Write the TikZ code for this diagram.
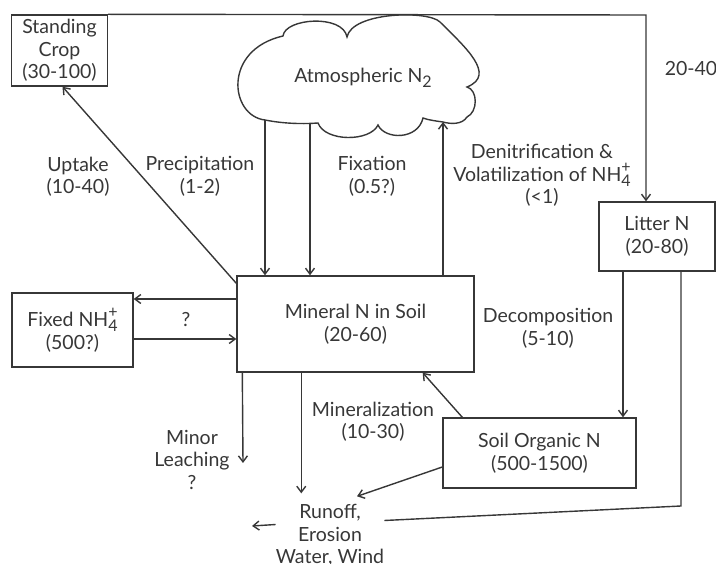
\documentclass[tikz,border=0pt]{standalone}
\usepackage{fontspec}
\setmainfont{Lato}
\usetikzlibrary{positioning,arrows.meta}
\definecolor{inkgray}{RGB}{55,55,55}
\newcommand{\ammon}{NH\raisebox{-0.55ex}{\shortstack[l]{\fontsize{16}{10}\selectfont +\\\fontsize{16}{16}\selectfont 4}}}
\newcommand{\dinitro}{N\raisebox{-0.45ex}{\fontsize{16}{16}\selectfont 2}}

\begin{document}
\begin{tikzpicture}[x=1pt,y=-1pt,
    every node/.style={font=\fontsize{19.5}{22.5}\selectfont, text=inkgray, align=center},
    pool/.style={draw=inkgray, line width=1.4pt, inner sep=0pt},
    txt/.style={inner sep=0pt},
    flow/.style={draw=inkgray, line width=1.4pt, -{Straight Barb[length=6pt,width=9pt]}},
    plain/.style={draw=inkgray, line width=1.4pt}]
  \useasboundingbox (0,0) rectangle (716,564);

  % Define the pools
  \node[pool, minimum width=96pt, minimum height=71pt] (crop) at (59.5,50.5) {Standing\\Crop\\(30-100)};
  \node[pool, minimum width=237pt, minimum height=96pt] (mineral) at (355.5,324) {Mineral N in Soil\\(20-60)};
  \node[pool, minimum width=121pt, minimum height=74pt] (fixed) at (72.5,330) {Fixed \ammon\\(500?)};
  \node[pool, minimum width=116pt, minimum height=69pt] (litter) at (657,236.5) {Litter N\\(20-80)};
  \node[pool, minimum width=193pt, minimum height=70pt] (soilorg) at (539.5,453) {Soil Organic N\\(500-1500)};

  % Atmosphere cloud
  \draw[plain] (265,120) .. controls (230,116) and (222,50) .. (283,36)
    .. controls (285,18) and (343,14) .. (347,37)
    .. controls (352,12) and (428,10) .. (440,22)
    .. controls (465,47) and (497,75) .. (467,87)
    .. controls (478,90) and (478,112) .. (467,117)
    .. controls (462,125) and (450,124) .. (443,122)
    .. controls (436,121) and (428,120) .. (423,118)
    .. controls (418,140) and (385,140) .. (378,125)
    .. controls (370,142) and (325,142) .. (318,123)
    .. controls (305,124) and (285,124) .. (265,120);
  \node[txt] (atm) at (363,78) {Atmospheric \dinitro};
  \coordinate (precTop) at (265,120);
  \coordinate (fixTop) at (310,124);
  \coordinate (denTop) at (443,122);

  % Flow labels
  \node[txt] (uptakeLbl) at (78,176.5) {Uptake\\(10-40)};
  \node[txt] (precLbl) at (200,176.5) {Precipitation\\(1-2)};
  \node[txt] (fixLbl) at (372,176.5) {Fixation\\(0.5?)};
  \node[txt] (denLbl) at (542,175.5) {Denitrification \&\\Volatilization of \ammon\\(<1)};
  \node[txt] (litterLbl) at (691,69) {20-40};
  \node[txt] (exchLbl) at (186,320) {?};
  \node[txt] (decLbl) at (548,328.5) {Decomposition\\(5-10)};
  \node[txt] (minLbl) at (373,421.5) {Mineralization\\(10-30)};
  \node[txt] (leachLbl) at (192,459.5) {Minor\\Leaching\\?};
  \node[txt] (runoff) at (330,535.5) {Runoff,\\Erosion\\Water, Wind};

  % Free ends
  \coordinate (turn) at (646,15);
  \coordinate (bend) at (681,506);
  \coordinate (leach) at (243,463);
  \coordinate (away) at (252,526);

  % Connectors
  \draw[flow] ([yshift=-8pt]mineral.north west) -- ([xshift=3pt]crop.south);
  \draw[flow] (precTop) -- (precTop |- mineral.north);
  \draw[flow] (fixTop) -- (fixTop |- mineral.north);
  \draw[flow] (denTop |- mineral.north) -- (denTop);
  \draw[flow] (crop.north east) -- (turn) -- (turn |- litter.north);
  \draw[flow] ([yshift=25pt]mineral.west) -- ([yshift=25pt]mineral.west -| fixed.east);
  \draw[flow] ([yshift=-15pt]mineral.west -| fixed.east) -- ([yshift=-15pt]mineral.west);
  \draw[flow] ([xshift=-34pt]litter.south) -- ([xshift=-34pt]litter.south |- soilorg.north);
  \draw[plain] ([xshift=24pt]litter.south) -- (bend) -- ([yshift=15pt]runoff.east);
  \draw[flow] ([yshift=11pt]runoff.west) -- (away);
  \draw[flow] ([yshift=-14pt]soilorg.west) -- ([shift={(27pt,8pt)}]runoff.north);
  \draw[flow] ([xshift=20pt]soilorg.north west) -- ([xshift=-52pt]mineral.south east);
  \draw[flow] ([xshift=6pt]mineral.south west) -- (leach);
  \draw[flow, shorten >=11pt] ([xshift=65pt]mineral.south west) -- ([xshift=65pt]mineral.south west |- runoff.north);
\end{tikzpicture}
\end{document}
